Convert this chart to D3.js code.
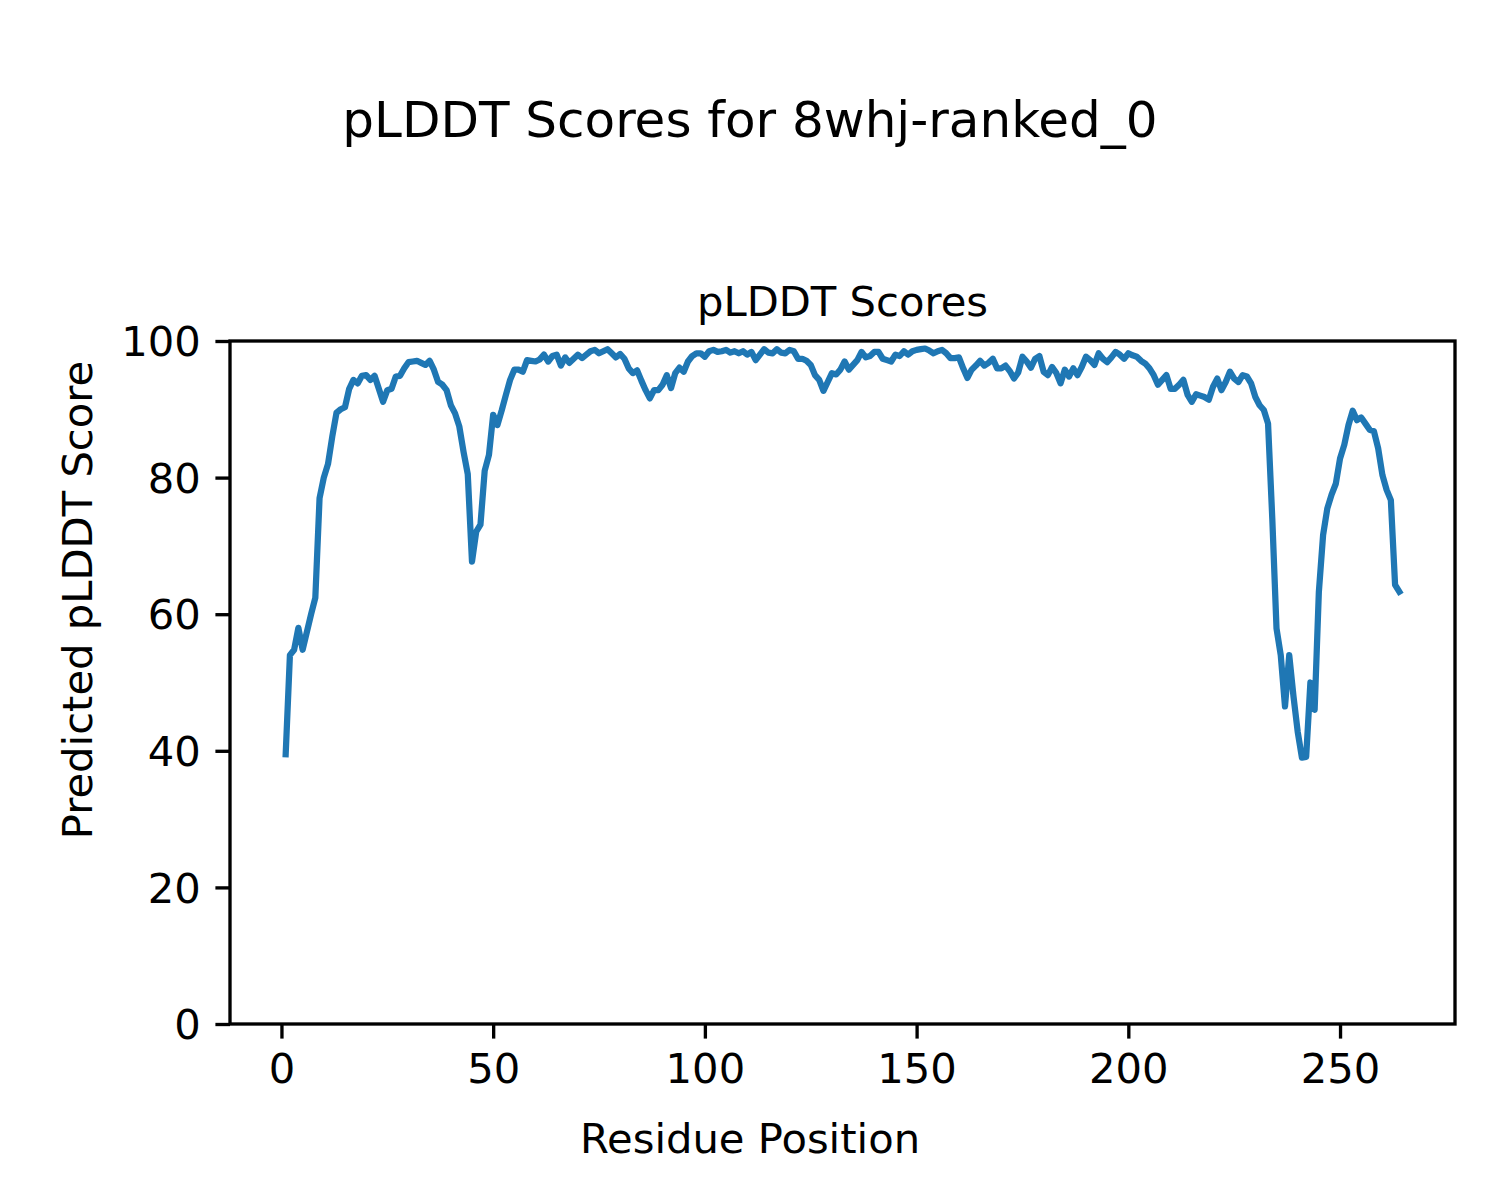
<!DOCTYPE html>
<html>
<head>
<meta charset="utf-8">
<script src="https://cdn.jsdelivr.net/npm/d3@7"></script>
<style>
  html, body { margin: 0; padding: 0; background: #fff; }
  text { font-family: "DejaVu Sans", sans-serif; fill: #000; }
</style>
</head>
<body>
<svg id="chart" width="1500" height="1200"></svg>
<script>
const suptitle = "pLDDT Scores for 8whj-ranked_0";
const axTitle = "pLDDT Scores";
const xLabel = "Residue Position";
const yLabel = "Predicted pLDDT Score";
const xTicks = [0, 50, 100, 150, 200, 250];
const yTicks = [0, 20, 40, 60, 80, 100];

const plddt = [
  39.5, 54.0, 54.8, 58.0, 54.8, 57.4, 60.0, 62.4, 77.0, 80.0,
  82.0, 86.0, 89.5, 90.0, 90.3, 93.0, 94.3, 93.8, 94.9, 95.0,
  94.3, 94.9, 93.0, 91.1, 92.8, 93.0, 94.8, 94.9, 96.0, 96.9,
  97.0, 97.1, 96.8, 96.5, 97.1, 95.8, 94.0, 93.6, 92.8, 90.6,
  89.4, 87.5, 83.8, 80.5, 67.7, 72.1, 73.1, 81.0, 83.3, 89.2,
  87.7, 89.8, 92.1, 94.3, 95.8, 95.8, 95.5, 97.2, 97.1, 97.0,
  97.3, 98.0, 97.0, 97.8, 98.0, 96.4, 97.6, 96.8, 97.4, 98.0,
  97.5, 98.0, 98.5, 98.7, 98.2, 98.5, 98.8, 98.2, 97.6, 98.1,
  97.4, 96.0, 95.3, 95.7, 94.2, 92.8, 91.6, 92.8, 92.8, 93.6,
  95.0, 93.1, 95.3, 96.1, 95.5, 97.0, 97.8, 98.2, 98.2, 97.7,
  98.5, 98.7, 98.4, 98.5, 98.7, 98.3, 98.5, 98.2, 98.5, 98.0,
  98.4, 97.2, 98.0, 98.8, 98.3, 98.2, 98.8, 98.3, 98.2, 98.7,
  98.5, 97.4, 97.4, 97.1, 96.5, 95.0, 94.3, 92.7, 94.0, 95.3,
  95.1, 95.8, 97.0, 95.8, 96.5, 97.2, 98.4, 97.6, 97.8, 98.4,
  98.4, 97.4, 97.2, 97.0, 98.0, 97.8, 98.5, 98.0, 98.5, 98.7,
  98.8, 98.9, 98.6, 98.2, 98.5, 98.7, 98.2, 97.5, 97.5, 97.6,
  96.0, 94.6, 95.8, 96.4, 97.1, 96.4, 96.8, 97.4, 96.0, 96.0,
  96.4, 95.6, 94.5, 95.4, 97.7, 97.0, 96.1, 97.4, 97.8, 95.5,
  95.0, 96.2, 95.3, 93.8, 95.8, 94.8, 96.0, 95.0, 96.2, 97.7,
  97.2, 96.5, 98.2, 97.4, 96.9, 97.6, 98.4, 98.0, 97.4, 98.2,
  97.9, 97.7, 97.1, 96.7, 96.0, 95.0, 93.6, 94.3, 95.0, 93.0,
  93.0, 93.6, 94.3, 92.1, 91.1, 92.2, 92.0, 91.8, 91.4, 93.3,
  94.5, 92.8, 94.0, 95.5, 94.5, 94.0, 95.0, 94.8, 93.8, 91.8,
  90.6, 89.9, 87.9, 74.0, 57.9, 54.0, 46.5, 54.0, 48.0, 42.8,
  39.0, 39.1, 50.0, 46.0, 63.3, 71.6, 75.5, 77.5, 79.1, 82.8,
  84.8, 87.7, 89.8, 88.4, 88.8, 87.9, 87.0, 86.8, 84.3, 80.4,
  78.2, 76.7, 64.3, 63.3
];
const residues = plddt.map((_, i) => i + 1);

const svg = d3.select("#chart");
const L = 230, R = 1455, T = 341, B = 1024;
const n = plddt.length;
const pad = (n - 1) * 0.05;
const x = d3.scaleLinear().domain([1 - pad, n + pad]).range([L, R]);
const y = d3.scaleLinear().domain([0, 100]).range([B, T]);

svg.append("text").attr("x", 750).attr("y", 137).attr("text-anchor", "middle")
  .style("font-size", "50px").text(suptitle);
svg.append("text").attr("x", (L + R) / 2).attr("y", 316).attr("text-anchor", "middle")
  .style("font-size", "41.7px").text(axTitle);
svg.append("text").attr("x", 750).attr("y", 1153).attr("text-anchor", "middle")
  .style("font-size", "41.7px").text(xLabel);
svg.append("text").attr("transform", "translate(92,600) rotate(-90)").attr("text-anchor", "middle")
  .style("font-size", "41.7px").text(yLabel);

svg.append("defs").append("clipPath").attr("id", "clip")
  .append("rect").attr("x", L).attr("y", T).attr("width", R - L).attr("height", B - T);

const line = d3.line().x((d, i) => x(residues[i])).y(d => y(d));
svg.append("path").datum(plddt).attr("d", line)
  .attr("clip-path", "url(#clip)")
  .attr("fill", "none").attr("stroke", "#1f77b4").attr("stroke-width", 6.25)
  .attr("stroke-linejoin", "round").attr("stroke-linecap", "square");

const xAxis = d3.axisBottom(x).tickValues(xTicks).tickSize(14.6).tickPadding(14.6).tickFormat(d3.format("d"));
const gx = svg.append("g").attr("transform", `translate(0,${B})`).call(xAxis);
const yAxis = d3.axisLeft(y).tickValues(yTicks).tickSize(14.6).tickPadding(14.6).tickFormat(d3.format("d"));
const gy = svg.append("g").attr("transform", `translate(${L},0)`).call(yAxis);
[gx, gy].forEach(g => {
  g.select(".domain").remove();
  g.selectAll(".tick line").attr("stroke", "#000").attr("stroke-width", 3.33);
  g.selectAll(".tick text").style("font-size", "41.7px").style("font-family", "DejaVu Sans, sans-serif").attr("fill", "#000");
});
gx.selectAll(".tick text").attr("dy", "0.71em");
gy.selectAll(".tick text").attr("dy", "0.35em");

svg.append("rect").attr("x", L).attr("y", T).attr("width", R - L).attr("height", B - T)
  .attr("fill", "none").attr("stroke", "#000").attr("stroke-width", 3.33);
</script>
</body>
</html>
